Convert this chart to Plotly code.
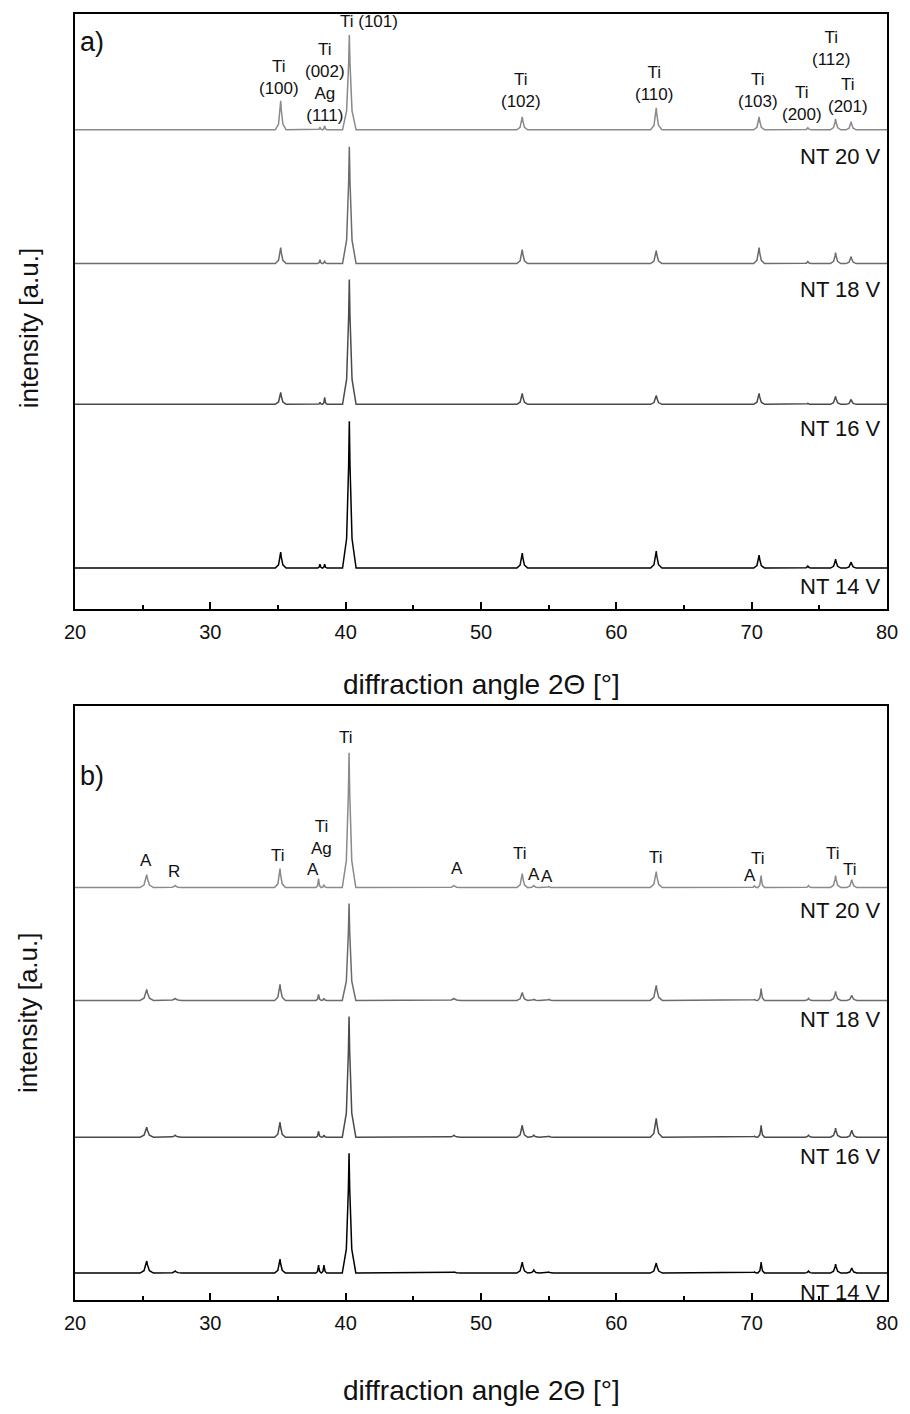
import plotly.graph_objects as go

# ---------------- data ----------------
series_labels = ["NT 20 V", "NT 18 V", "NT 16 V", "NT 14 V"]
series_colors = ["#8a8a8a", "#6c6c6c", "#4a4a4a", "#000000"]

# panel a) peak positions (2theta, deg)
a_peaks = [35.2, 38.1, 38.45, 40.27, 53.05, 62.95, 70.55, 74.15, 76.2, 77.35]
a_widths = [0.4, 0.17, 0.17, 0.5, 0.4, 0.42, 0.4, 0.3, 0.38, 0.38]
a_base = [480, 346, 205, 41]
a_nt20 = [29, 3, 4, 95, 13, 22, 13, 2, 11, 8]
a_nt18 = [16, 4, 3, 117, 14, 13, 16, 2, 11, 7]
a_nt16 = [12, 2, 7, 125, 11, 9, 11, 1, 8, 5]
a_nt14 = [16, 4, 4, 147, 15, 17, 13, 2, 9, 6]

# panel b) peak positions
b_peaks = [25.3, 27.4, 35.15, 38.0, 38.4, 40.25, 48.0, 53.05, 53.9, 55.0, 62.95, 70.2, 70.7, 74.2, 76.2, 77.4]
b_widths = [0.5, 0.5, 0.4, 0.2, 0.2, 0.5, 0.5, 0.4, 0.4, 0.4, 0.45, 0.25, 0.25, 0.3, 0.38, 0.38]
b_base = [413, 300, 163, 27]
b_nt20 = [13, 2, 19, 9, 3, 135, 2, 14, 2, 1, 16, 2, 12, 2, 12, 8]
b_nt18 = [11, 2, 16, 6, 2, 97, 2, 8, 1, 1, 15, 1, 12, 2, 9, 5]
b_nt16 = [10, 2, 15, 6, 2, 121, 2, 12, 2, 1, 19, 1, 12, 2, 9, 7]
b_nt14 = [12, 2, 14, 8, 8, 120, 1, 11, 3, 1, 10, 1, 11, 2, 9, 5]

x_ticks = [20, 30, 40, 50, 60, 70, 80]

# annotations: (text, x, y)
a_labels = [
    ("Ti<br>(100)", 35.05, 532), ("Ti<br>(002)<br>Ag<br>(111)", 38.45, 527),
    ("Ti (101)", 41.7, 588), ("Ti<br>(102)", 52.95, 519), ("Ti<br>(110)", 62.75, 526),
    ("Ti<br>(103)", 70.5, 519), ("Ti<br>(200)", 73.7, 506), ("Ti<br>(112)", 75.85, 561),
    ("Ti<br>(201)", 77.1, 514),
]
b_labels = [
    ("A", 25.25, 440), ("R", 27.3, 429), ("Ti", 35.0, 445), ("A", 37.6, 431),
    ("Ti<br>Ag", 38.2, 463), ("Ti", 40.0, 563), ("A", 48.2, 432), ("Ti", 52.9, 447),
    ("A", 53.9, 426), ("A", 54.9, 424), ("Ti", 62.9, 443), ("A", 69.9, 425),
    ("Ti", 70.5, 442), ("Ti", 76.0, 447), ("Ti", 77.3, 431),
]
a_name_y = [453, 320, 181, 23]
b_name_y = [390, 281, 144, 8]


def profile(peaks, widths, heights, base):
    xs, ys = [20.0], [base]
    for p, w, h in zip(peaks, widths, heights):
        xs += [p - w, p - 0.4 * w, p - 0.1 * w, p, p + 0.1 * w, p + 0.4 * w, p + w]
        ys += [base, base + 0.2 * h, base + 0.7 * h, base + h, base + 0.7 * h, base + 0.2 * h, base]
    xs.append(80.0)
    ys.append(base)
    return xs, ys


fig = go.Figure()
a_sets = [a_nt20, a_nt18, a_nt16, a_nt14]
b_sets = [b_nt20, b_nt18, b_nt16, b_nt14]
for i in range(4):
    xs, ys = profile(a_peaks, a_widths, a_sets[i], a_base[i])
    fig.add_trace(go.Scatter(x=xs, y=ys, mode="lines", line=dict(color=series_colors[i], width=1.5),
                             xaxis="x", yaxis="y", showlegend=False, name=series_labels[i]))
    xs, ys = profile(b_peaks, b_widths, b_sets[i], b_base[i])
    fig.add_trace(go.Scatter(x=xs, y=ys, mode="lines", line=dict(color=series_colors[i], width=1.5),
                             xaxis="x2", yaxis="y2", showlegend=False, name=series_labels[i]))

FONT = "Liberation Sans, Arial, sans-serif"
TXT = "#111111"
ann = []
for t, x, y in a_labels:
    ann.append(dict(text=t, x=x, y=y, xref="x", yref="y", showarrow=False,
                    font=dict(size=17, color=TXT), yanchor="middle"))
for t, x, y in b_labels:
    ann.append(dict(text=t, x=x, y=y, xref="x2", yref="y2", showarrow=False,
                    font=dict(size=17, color=TXT), yanchor="middle"))
for i in range(4):
    ann.append(dict(text=series_labels[i], x=79.7, y=a_name_y[i], xref="x", yref="y", showarrow=False,
                    xanchor="right", font=dict(size=22, color=TXT)))
    ann.append(dict(text=series_labels[i], x=79.7, y=b_name_y[i], xref="x2", yref="y2", showarrow=False,
                    xanchor="right", font=dict(size=22, color=TXT)))
ann.append(dict(text="a)", x=20.2, y=568, xref="x", yref="y", showarrow=False, xanchor="left",
                font=dict(size=27, color=TXT)))
ann.append(dict(text="b)", x=20.2, y=525, xref="x2", yref="y2", showarrow=False, xanchor="left",
                font=dict(size=27, color=TXT)))
# axis titles
for yy in (0.756, 0.2236):
    ann.append(dict(text="intensity [a.u.]", x=-0.0573, y=yy, xref="paper", yref="paper", showarrow=False,
                    textangle=-90, xanchor="center", yanchor="middle", font=dict(size=26, color=TXT)))
for yy in (0.4783, -0.0707):
    ann.append(dict(text="diffraction angle 2\u0398 [\u00b0]", x=0.5, y=yy, xref="paper", yref="paper",
                    showarrow=False, xanchor="center", yanchor="middle", font=dict(size=28, color=TXT)))

xaxis_common = dict(range=[20, 80], tickvals=x_ticks, ticks="inside", ticklen=7, tickwidth=1.5,
                    tickcolor="black", showline=True, linewidth=2, linecolor="black", mirror=True,
                    showgrid=False, zeroline=False, tickfont=dict(size=20, color=TXT),
                    ticklabelstandoff=4,
                    minor=dict(dtick=5, ticks="inside", ticklen=4, tickwidth=1.5, tickcolor="black"))
yaxis_common = dict(showticklabels=False, ticks="", showline=True, linewidth=2, linecolor="black",
                    mirror=True, showgrid=False, zeroline=False)

fig.update_layout(
    width=910, height=1414, autosize=False,
    margin=dict(l=75, r=15, t=12, b=114),
    paper_bgcolor="white", plot_bgcolor="white",
    font=dict(family=FONT, color=TXT),
    xaxis=dict(domain=[0, 1], anchor="y", **xaxis_common),
    yaxis=dict(domain=[0.5373, 1], range=[0, 596], anchor="x", **yaxis_common),
    xaxis2=dict(domain=[0, 1], anchor="y2", **xaxis_common),
    yaxis2=dict(domain=[0, 0.462], range=[0, 595], anchor="x2", **yaxis_common),
    annotations=ann,
)

fig.write_html("out.html", config={"displayModeBar": False},
               post_script="document.body.style.margin='0';document.body.style.overflow='hidden';")
